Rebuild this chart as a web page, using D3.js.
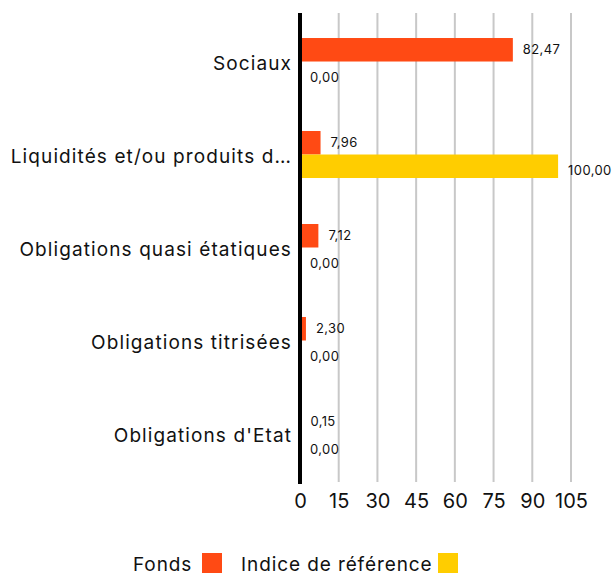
<!DOCTYPE html>
<html><head><meta charset="utf-8">
<script src="https://cdn.jsdelivr.net/npm/d3@7"></script>
<style>body{margin:0;background:#fff}svg{display:block}text{font-family:Inter,"Noto Sans",sans-serif;fill:#111}</style>
</head><body>
<script>
const categories = ["Sociaux","Liquidités et/ou produits d…","Obligations quasi étatiques","Obligations titrisées","Obligations d'Etat"];
const fonds = [82.47, 7.96, 7.12, 2.30, 0.15];
const indice = [0.00, 100.00, 0.00, 0.00, 0.00];
const seriesNames = ["Fonds","Indice de référence"];
const seriesColors = ["#ff4a14","#ffcd00"];
const xTicks = [0,15,30,45,60,75,90,105];

const W=616,H=576;
const FONT='Inter,"Noto Sans",sans-serif';
const svg=d3.select("body").append("svg").attr("width",W).attr("height",H);
const x=d3.scaleLinear().domain([0,105]).range([300,571]);
const y=d3.scaleBand().domain(categories).range([13,482]).paddingInner(0.4946).paddingOuter(0.269);
const sub=d3.scaleBand().domain(seriesNames).range([0,y.bandwidth()]);

// gridlines
svg.append("g").selectAll("line").data(xTicks.slice(1)).join("line")
  .attr("x1",d=>x(d)).attr("x2",d=>x(d)).attr("y1",13).attr("y2",482)
  .attr("stroke","#c8c8c8").attr("stroke-width",2);

const fmt=v=>v.toFixed(2).replace(".",",");
const data=[fonds,indice];
data.forEach((vals,si)=>{
  const g=svg.append("g");
  g.selectAll("rect").data(vals).join("rect")
    .attr("x",x(0)).attr("y",(d,i)=>y(categories[i])+sub(seriesNames[si]))
    .attr("width",d=>x(d)-x(0)).attr("height",sub.bandwidth())
    .attr("fill",seriesColors[si]);
  g.selectAll("text").data(vals).join("text")
    .attr("x",d=>x(d)+10)
    .attr("y",(d,i)=>y(categories[i])+sub(seriesNames[si])+(si===0?11:16))
    .attr("dy","0.35em").attr("font-size",13).attr("letter-spacing","0.4px").text(d=>fmt(d));
});

// y axis
const ya=svg.append("g").attr("transform","translate(300,2)")
  .call(d3.axisLeft(y).tickSize(0).tickPadding(8));
ya.select(".domain").remove();
ya.selectAll("text").attr("font-size",19).attr("letter-spacing","1.1px").style("font-family",FONT).attr("fill","#111");
svg.append("line").attr("x1",300).attr("x2",300).attr("y1",13).attr("y2",484)
  .attr("stroke","#000").attr("stroke-width",4);

// x axis
const xa=svg.append("g").attr("transform","translate(0,490)")
  .call(d3.axisBottom(x).tickValues(xTicks).tickSize(0).tickPadding(4));
xa.select(".domain").remove();
xa.selectAll("text").attr("font-size",20).style("font-family",FONT).attr("fill","#111");

// legend
const leg=svg.append("g");
const items=[{n:seriesNames[0],tx:133,sx:202},{n:seriesNames[1],tx:241,sx:438}];
items.forEach((it,i)=>{
  leg.append("text").attr("x",it.tx).attr("y",564).attr("dy","0.35em").attr("font-size",19).attr("letter-spacing","0.9px").text(it.n);
  leg.append("rect").attr("x",it.sx).attr("y",553).attr("width",20).attr("height",20).attr("fill",seriesColors[i]);
});
</script>
</body></html>
